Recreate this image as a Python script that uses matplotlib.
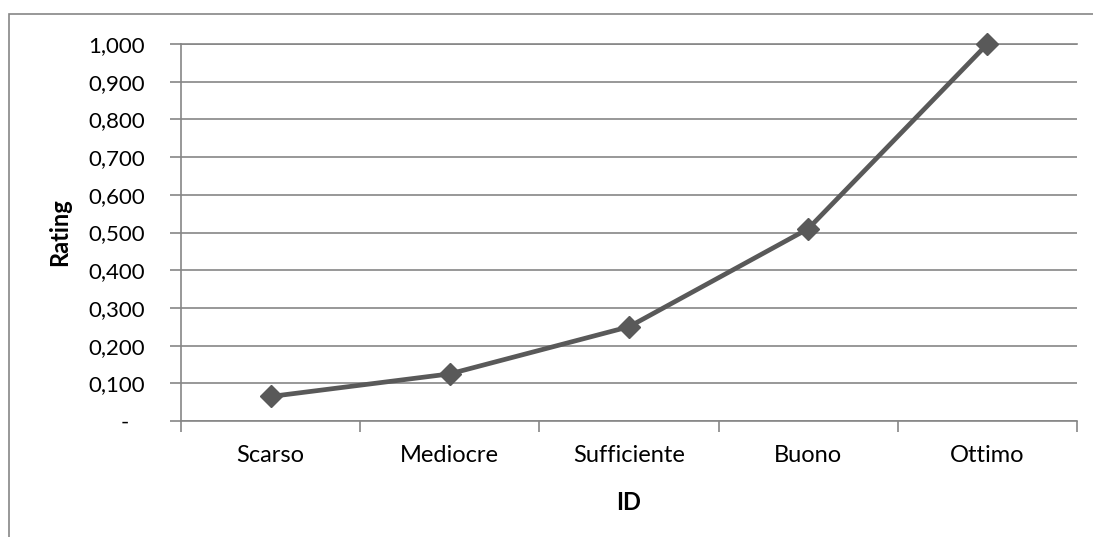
import matplotlib
matplotlib.use("Agg")
import matplotlib.pyplot as plt
import matplotlib.transforms as mtransforms
from matplotlib.patches import Rectangle

categories = ["Scarso", "Mediocre", "Sufficiente", "Buono", "Ottimo"]
ratings = [0.065, 0.125, 0.25, 0.51, 1.0]
y_ticks = [0.0, 0.1, 0.2, 0.3, 0.4, 0.5, 0.6, 0.7, 0.8, 0.9, 1.0]
y_tick_labels = ["-", "0,100", "0,200", "0,300", "0,400", "0,500",
                 "0,600", "0,700", "0,800", "0,900", "1,000"]

plt.rcParams['font.family'] = ['Lato', 'DejaVu Sans']

W, H = 1093, 537
fig = plt.figure(figsize=(W / 100, H / 100), dpi=100)
grid_c = "#868686"

# outer chart border (top and left visible)
fig.patches.append(Rectangle((9 / W, -0.1), 1.2, 1 - 14 / H + 0.1,
                             transform=fig.transFigure, fill=False,
                             edgecolor=grid_c, linewidth=1.2))

AX_L, AX_R, AX_T, AX_B = 181, 1077, 44, 421
ax = fig.add_axes([AX_L / W, 1 - AX_B / H, (AX_R - AX_L) / W, (AX_B - AX_T) / H])
x = list(range(len(categories)))
ax.plot(x, ratings, color="#595959", linewidth=3.4, marker="D",
        markersize=11, clip_on=False, zorder=3)

ax.set_xlim(-0.5, len(categories) - 0.5)
ax.set_ylim(0, 1.0)

ax.set_yticks(y_ticks)
ax.set_yticklabels(y_tick_labels)
ax.yaxis.grid(True, color=grid_c, linewidth=1.2)
ax.set_axisbelow(True)

ax.set_xticks([i - 0.5 for i in range(len(categories) + 1)])
ax.set_xticklabels([])
ax.set_xticks(x, minor=True)
ax.set_xticklabels(categories, minor=True)
ax.tick_params(axis="x", which="major", length=8, width=1.2, color=grid_c)
ax.tick_params(axis="x", which="minor", length=0, pad=17.5, labelsize=17)
ax.tick_params(axis="y", length=8, width=1.2, color=grid_c, pad=18, labelsize=16)

ax.spines["right"].set_visible(False)
for s in ["left", "bottom", "top"]:
    ax.spines[s].set_color(grid_c)
    ax.spines[s].set_linewidth(1.2)

# shift the zero dash left (accounting format)
lbl0 = ax.get_yticklabels()[0]
lbl0.set_transform(lbl0.get_transform() +
                   mtransforms.ScaledTranslation(-16 / 100, 0, fig.dpi_scale_trans))

ax.set_ylabel("Rating", fontweight="bold", fontsize=17)
ax.yaxis.set_label_coords(-(AX_L - 71) / (AX_R - AX_L), 0.5)
ax.set_xlabel("ID", fontweight="bold", fontsize=17)
ax.xaxis.set_label_coords(0.5, -(491 - AX_B) / (AX_B - AX_T))

fig.savefig("out.png", dpi=100)
